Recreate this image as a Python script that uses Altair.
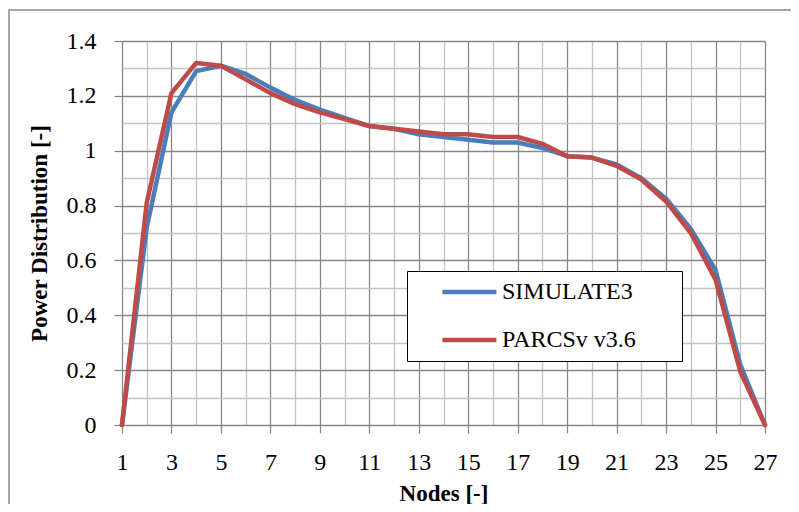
import altair as alt
import pandas as pd

nodes = list(range(1, 28))
simulate3 = [0.0, 0.72, 1.14, 1.29, 1.31, 1.28, 1.23, 1.185, 1.15, 1.12, 1.09, 1.08, 1.06, 1.05, 1.04, 1.03, 1.03, 1.01, 0.98, 0.975, 0.95, 0.90, 0.825, 0.715, 0.565, 0.22, 0.0]
parcs = [0.0, 0.81, 1.21, 1.32, 1.31, 1.26, 1.21, 1.17, 1.14, 1.115, 1.09, 1.08, 1.07, 1.06, 1.06, 1.05, 1.05, 1.025, 0.98, 0.975, 0.945, 0.895, 0.815, 0.70, 0.53, 0.195, 0.0]
series_names = ["SIMULATE3", "PARCSv v3.6"]
series_colors = ["#4a7ebb", "#be4b48"]
y_ticks = [round(i * 0.1, 1) for i in range(15)]

rows = []
for name, vals in zip(series_names, [simulate3, parcs]):
    for n, v in zip(nodes, vals):
        rows.append({"Node": n, "Value": v, "Series": name})
df = pd.DataFrame(rows)

FONT = "Liberation Serif, DejaVu Serif, serif"
DARK = "#878787"
LIGHT = "#c3c3c3"

x_axis = alt.Axis(
    values=nodes,
    title="Nodes [-]",
    labelExpr="datum.value % 2 == 1 ? datum.label : ''",
    labelFlush=False,
    labelOverlap=False,
    grid=True,
    gridColor=alt.condition("datum.value % 2 == 1", alt.value(DARK), alt.value(LIGHT)),
    gridWidth=1.3,
    ticks=True,
    tickSize=8,
    tickColor=alt.condition("datum.value % 2 == 1", alt.value(DARK), alt.value("rgba(0,0,0,0)")),
    tickWidth=1.3,
    domain=False,
    labelFont=FONT,
    labelFontSize=24,
    labelColor="black",
    labelPadding=17,
    labelAngle=0,
    titleFont=FONT,
    titleFontSize=23,
    titleFontWeight="bold",
    titleColor="black",
    titlePadding=8,
)

y_axis = alt.Axis(
    values=y_ticks,
    title="Power Distribution [-]",
    labelExpr="round(datum.value * 10) % 2 == 0 ? format(datum.value, '~g') : ''",
    labelFlush=False,
    labelOverlap=False,
    grid=True,
    gridColor=alt.condition("round(datum.value * 10) % 2 == 0", alt.value(DARK), alt.value(LIGHT)),
    gridWidth=1.3,
    ticks=True,
    tickSize=8,
    tickColor=alt.condition("round(datum.value * 10) % 2 == 0", alt.value(DARK), alt.value("rgba(0,0,0,0)")),
    tickWidth=1.3,
    domain=False,
    labelFont=FONT,
    labelFontSize=24,
    labelColor="black",
    labelPadding=18,
    titleFont=FONT,
    titleFontSize=23,
    titleFontWeight="bold",
    titleColor="black",
    titlePadding=15,
)

W, H = 643, 384

lines = alt.Chart(df).mark_line(strokeWidth=4.5, strokeJoin="round", strokeCap="round").encode(
    x=alt.X("Node:Q", scale=alt.Scale(domain=[1, 27], nice=False, zero=False), axis=x_axis),
    y=alt.Y("Value:Q", scale=alt.Scale(domain=[0, 1.4], nice=False), axis=y_axis),
    color=alt.Color(
        "Series:N",
        scale=alt.Scale(domain=series_names, range=series_colors),
        sort=series_names,
        legend=alt.Legend(
            title=None,
            orient="none",
            legendX=285,
            legendY=230,
            symbolType="M1.6,0H7.6M26.2,0",
            symbolSize=324,
            symbolStrokeWidth=4.5,
            labelFont=FONT,
            labelFontSize=24,
            labelColor="black",
            labelOffset=62,
            rowPadding=24,
            padding=9,
            strokeColor="black",
            fillColor="white",
            labelLimit=400,
        ),
    ),
    order=alt.Order("Node:Q"),
)

border = alt.Chart(pd.DataFrame({"a": [0]})).mark_rect(
    filled=False, stroke="#888888", strokeWidth=1.5, clip=False
).encode(
    x=alt.value(-113), x2=alt.value(W + 300), y=alt.value(-31), y2=alt.value(H + 300)
)

chart = alt.layer(border, lines).properties(
    width=W,
    height=H,
    autosize=alt.AutoSizeParams(type="none"),
    padding={"left": 114, "top": 33, "right": 26, "bottom": 79},
    background="white",
).configure_view(stroke=None)

chart.save("out.html", embed_options={"renderer": "svg", "actions": False})
